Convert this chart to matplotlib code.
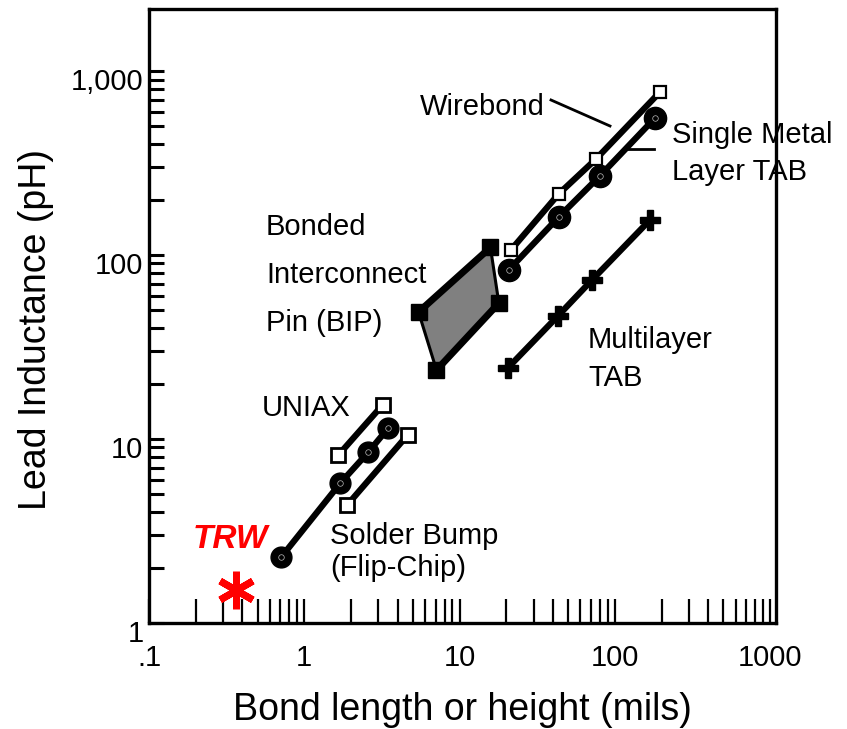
import matplotlib.pyplot as plt
from matplotlib.ticker import FixedLocator, NullFormatter

plt.rcParams['font.family'] = ['Liberation Sans', 'DejaVu Sans']

# data (mils, pH)
wire_x = [21.3, 43.5, 75.4, 195]
wire_y = [106, 215, 332, 769]
smt_x = [20.7, 43.5, 80, 181]
smt_y = [82.9, 161, 269, 555]
mlt_x = [20.4, 42.9, 71.1, 168]
mlt_y = [24.3, 46.6, 73.1, 155]
bip_x = [5.44, 15.8, 17.9, 7.1]
bip_y = [49, 110, 54.8, 23.7]
uniax_x = [1.66, 3.19]
uniax_y = [8.19, 15.3]
bump_sq_x = [1.89, 4.62]
bump_sq_y = [4.38, 10.5]
bump_x = [0.71, 1.71, 2.59, 3.48]
bump_y = [2.28, 5.77, 8.5, 11.5]
trw_x = [0.364]
trw_y = [1.51]

xticks = [0.1, 1, 10, 100, 1000]
xticklabels = ['.1', '1', '10', '100', '1000']
yticks = [1, 10, 100, 1000]
yticklabels = ['1', '10', '100', '1,000']

W, H = 847, 729
fig = plt.figure(figsize=(W / 100, H / 100), dpi=100)
ax = fig.add_axes([149 / W, 1 - 623 / H, (776 - 149) / W, (623 - 9) / H])
ax.set_xscale('log')
ax.set_yscale('log')
ax.set_xlim(0.1, 1090)
ax.set_ylim(1, 2175)

def fx(px):
    return px / W

def fy(py):
    return 1 - py / H

lw = 4.5
# wirebond
ax.plot(wire_x, wire_y, color='black', lw=lw, marker='s', ms=9,
        mfc='white', mec='black', mew=1.6, zorder=3)
# single metal layer TAB
ax.plot(smt_x, smt_y, color='black', lw=lw, marker='o', ms=16,
        mfc='black', mec='black', zorder=3)
ax.plot(smt_x, smt_y, ls='none', marker='o', ms=4, mfc='none', mec='#bbbbbb', mew=0.5, zorder=4)
# multilayer TAB
ax.plot(mlt_x, mlt_y, color='black', lw=lw, marker='P', ms=14,
        mfc='black', mec='black', zorder=3)
# BIP polygon
ax.fill(bip_x, bip_y, facecolor='#808080', edgecolor='none', zorder=2)
ax.plot(bip_x[:2], bip_y[:2], color='black', lw=lw + 0.5, zorder=3)
ax.plot(bip_x[2:], bip_y[2:], color='black', lw=lw + 0.5, zorder=3)
ax.plot([bip_x[1], bip_x[2]], [bip_y[1], bip_y[2]], color='black', lw=2.2, zorder=3)
ax.plot([bip_x[3], bip_x[0]], [bip_y[3], bip_y[0]], color='black', lw=2.2, zorder=3)
ax.plot(bip_x, bip_y, ls='none', marker='s', ms=11, mfc='black', mec='black', zorder=4)
# UNIAX
ax.plot(uniax_x, uniax_y, color='black', lw=lw, marker='s', ms=10,
        mfc='white', mec='black', mew=2, zorder=3)
# solder bump
ax.plot(bump_sq_x, bump_sq_y, color='black', lw=lw, marker='s', ms=10,
        mfc='white', mec='black', mew=2, zorder=3)
ax.plot(bump_x, bump_y, color='black', lw=lw, marker='o', ms=15,
        mfc='black', mec='black', zorder=3)
ax.plot(bump_x, bump_y, ls='none', marker='o', ms=4, mfc='none', mec='#bbbbbb', mew=0.5, zorder=4)
# TRW asterisk
ax.plot(trw_x, trw_y, ls='none', marker=(6, 2, 0), ms=27, mec='red', mew=5, zorder=4)

# axes styling
for s in ax.spines.values():
    s.set_linewidth(2.4)
minor = [m * 10 ** e for e in range(-1, 3) for m in range(2, 10)]
ax.xaxis.set_major_locator(FixedLocator(xticks))
ax.xaxis.set_major_formatter(plt.FixedFormatter(xticklabels))
ax.xaxis.set_minor_locator(FixedLocator(minor))
ax.xaxis.set_minor_formatter(NullFormatter())
ax.yaxis.set_major_locator(FixedLocator(yticks))
ax.yaxis.set_minor_locator(FixedLocator([v for v in minor if v > 1]))
ax.yaxis.set_minor_formatter(NullFormatter())
ax.set_yticklabels([])
ax.tick_params(axis='x', which='both', direction='in', length=17, width=1.6,
               labelsize=21, pad=15, top=False)
ax.tick_params(axis='y', which='both', direction='in', length=11, width=2.2,
               right=False)
for v, t in zip(yticks, yticklabels):
    ax.annotate(t, xy=(0, v), xycoords=('axes fraction', 'data'),
                xytext=(-4, -8), textcoords='offset points',
                ha='right', va='center', fontsize=21)

fs = 21
fig.text(fx(420), fy(107), 'Wirebond', ha='left', va='center', fontsize=fs)
fig.add_artist(plt.Line2D([fx(551), fx(610)], [fy(100), fy(126)], color='black', lw=2))
fig.text(fx(672), fy(135), 'Single Metal', ha='left', va='center', fontsize=fs)
fig.text(fx(672), fy(172), 'Layer TAB', ha='left', va='center', fontsize=fs)
fig.add_artist(plt.Line2D([fx(625), fx(654)], [fy(149), fy(149)], color='black', lw=2))
fig.text(fx(266), fy(227), 'Bonded', ha='left', va='center', fontsize=fs)
fig.text(fx(266), fy(275), 'Interconnect', ha='left', va='center', fontsize=fs)
fig.text(fx(266), fy(323), 'Pin (BIP)', ha='left', va='center', fontsize=fs)
fig.text(fx(588), fy(340), 'Multilayer', ha='left', va='center', fontsize=fs)
fig.text(fx(588), fy(378), 'TAB', ha='left', va='center', fontsize=fs)
fig.text(fx(262), fy(408), 'UNIAX', ha='left', va='center', fontsize=fs)
fig.text(fx(330), fy(536), 'Solder Bump', ha='left', va='center', fontsize=fs)
fig.text(fx(330), fy(568), '(Flip-Chip)', ha='left', va='center', fontsize=fs)
fig.text(fx(230), fy(540), 'TRW', ha='center', va='center', fontsize=24,
         color='red', fontweight='bold', fontstyle='italic')

fig.text(fx(462), fy(710), 'Bond length or height (mils)', ha='center', va='center', fontsize=27)
fig.text(fx(36), fy(330), 'Lead Inductance (pH)', ha='center', va='center',
         fontsize=27, rotation=90)

fig.savefig('out.png', dpi=100)
